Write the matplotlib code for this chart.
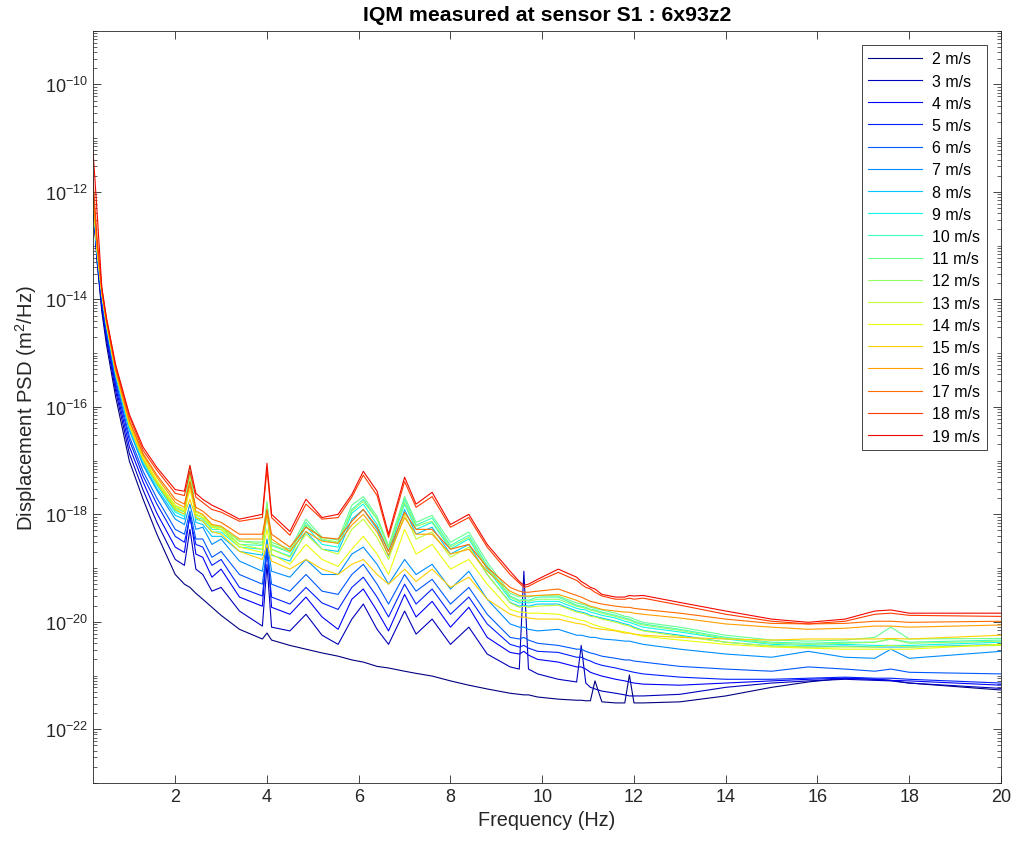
import numpy as np
import matplotlib
matplotlib.use("Agg")
import matplotlib.pyplot as plt
from matplotlib.ticker import LogLocator, NullFormatter

# ---------- data: displacement PSD, log10(m^2/Hz), one list per wind speed ----------
freq_hz = [0.2, 0.25, 0.3, 0.4, 0.5, 0.7, 1.0, 1.3, 1.6, 2.0,
           2.2, 2.32, 2.45, 2.6, 2.8, 3.0, 3.4, 3.9, 4.0, 4.1,
           4.5, 4.85, 5.2, 5.55, 5.85, 6.1, 6.4, 6.65, 7.0, 7.25,
           7.6, 8.0, 8.4, 8.8, 9.3, 9.5, 9.6, 9.7, 9.9, 10.35,
           10.75, 10.85, 10.95, 11.05, 11.15, 11.3, 11.6, 11.8, 11.9, 12.0,
           12.2, 13.0, 14.0, 15.0, 15.8, 16.6, 17.25, 17.6, 18.0, 20.0]

wind_speeds = list(range(2, 20))

psd_02 = [-12.14, -12.74, -13.33, -14.23, -14.84, -15.81, -17.01, -17.72, -18.37, -19.12,
          -19.30, -19.36, -19.47, -19.58, -19.73, -19.88, -20.14, -20.32, -20.21, -20.34,
          -20.44, -20.51, -20.58, -20.64, -20.71, -20.75, -20.83, -20.86, -20.92, -20.96,
          -21.01, -21.10, -21.18, -21.25, -21.33, -21.35, -21.36, -21.36, -21.40, -21.44,
          -21.46, -21.46, -21.47, -21.47, -21.10, -21.49, -21.51, -21.51, -20.99, -21.51,
          -21.51, -21.49, -21.38, -21.22, -21.12, -21.05, -21.07, -21.09, -21.14, -21.27]
psd_03 = [-12.13, -12.72, -13.30, -14.15, -14.75, -15.70, -16.87, -17.55, -18.15, -18.84,
          -18.95, -18.28, -19.02, -19.12, -19.43, -19.36, -19.80, -20.08, -18.93, -20.10,
          -20.17, -19.86, -20.25, -20.42, -19.95, -19.67, -20.14, -20.42, -19.80, -20.23,
          -19.95, -20.42, -20.10, -20.60, -20.84, -20.88, -19.06, -20.88, -20.97, -21.07,
          -21.12, -20.44, -21.14, -21.22, -21.25, -21.29, -21.33, -21.36, -21.38, -21.38,
          -21.38, -21.35, -21.22, -21.14, -21.10, -21.07, -21.09, -21.10, -21.14, -21.24]
psd_04 = [-12.11, -12.68, -13.26, -14.08, -14.67, -15.62, -16.74, -17.40, -17.98, -18.61,
          -18.71, -18.00, -18.74, -18.80, -19.17, -19.02, -19.54, -19.71, -18.56, -19.73,
          -19.86, -19.54, -19.91, -20.14, -19.58, -19.39, -19.80, -20.17, -19.49, -19.91,
          -19.62, -20.10, -19.73, -20.29, -20.57, -20.60, -20.55, -20.62, -20.70, -20.75,
          -20.84, -20.84, -20.88, -20.94, -20.97, -21.01, -21.07, -21.10, -21.12, -21.14,
          -21.16, -21.18, -21.14, -21.10, -21.07, -21.05, -21.07, -21.09, -21.10, -21.18]
psd_05 = [-12.09, -12.66, -13.22, -14.02, -14.62, -15.55, -16.62, -17.29, -17.81, -18.41,
          -18.52, -18.06, -18.56, -18.61, -18.95, -18.84, -19.36, -19.52, -18.69, -19.54,
          -19.67, -19.36, -19.65, -19.77, -19.36, -19.17, -19.54, -19.91, -19.30, -19.67,
          -19.39, -19.86, -19.54, -20.04, -20.42, -20.47, -20.44, -20.49, -20.55, -20.57,
          -20.66, -20.66, -20.70, -20.73, -20.77, -20.81, -20.86, -20.90, -20.92, -20.94,
          -20.97, -21.03, -21.07, -21.07, -21.05, -21.03, -21.05, -21.05, -21.07, -21.14]
psd_06 = [-12.07, -12.65, -13.20, -13.98, -14.58, -15.49, -16.55, -17.20, -17.70, -18.28,
          -18.37, -17.94, -18.46, -18.46, -18.80, -18.69, -19.12, -19.30, -18.61, -19.30,
          -19.43, -19.12, -19.43, -19.49, -19.12, -18.93, -19.30, -19.67, -19.12, -19.43,
          -19.21, -19.67, -19.36, -19.86, -20.29, -20.32, -20.29, -20.34, -20.40, -20.44,
          -20.51, -20.51, -20.55, -20.58, -20.60, -20.64, -20.68, -20.71, -20.71, -20.73,
          -20.75, -20.83, -20.88, -20.92, -20.84, -20.88, -20.92, -20.88, -20.94, -20.97]
psd_07 = [-12.05, -12.61, -13.17, -13.93, -14.51, -15.42, -16.44, -17.09, -17.55, -18.09,
          -18.19, -17.81, -18.28, -18.24, -18.56, -18.46, -18.87, -19.06, -18.46, -19.06,
          -19.17, -18.84, -19.12, -19.12, -18.74, -18.61, -18.93, -19.30, -18.84, -19.12,
          -18.93, -19.39, -19.06, -19.58, -20.04, -20.10, -20.10, -20.14, -20.17, -20.14,
          -20.25, -20.25, -20.27, -20.29, -20.29, -20.32, -20.34, -20.36, -20.36, -20.38,
          -20.42, -20.51, -20.60, -20.66, -20.55, -20.66, -20.68, -20.51, -20.68, -20.55]
psd_08 = [-12.03, -12.59, -13.15, -13.91, -14.49, -15.40, -16.42, -17.05, -17.52, -18.02,
          -18.09, -17.26, -18.15, -18.19, -18.41, -18.41, -18.69, -18.76, -17.94, -18.76,
          -18.87, -18.32, -18.65, -18.69, -18.09, -17.91, -18.28, -18.78, -17.91, -18.37,
          -18.24, -18.74, -18.56, -19.12, -19.64, -19.71, -19.69, -19.71, -19.67, -19.67,
          -19.80, -19.82, -19.84, -19.88, -19.90, -19.93, -19.99, -20.04, -20.06, -20.10,
          -20.16, -20.25, -20.38, -20.45, -20.47, -20.45, -20.47, -20.47, -20.47, -20.42]
psd_09 = [-12.01, -12.57, -13.13, -13.89, -14.47, -15.38, -16.38, -17.01, -17.46, -17.96,
          -18.04, -17.16, -18.09, -18.13, -18.33, -18.33, -18.61, -18.65, -17.87, -18.65,
          -18.78, -18.22, -18.56, -18.61, -17.98, -17.81, -18.19, -18.69, -17.81, -18.28,
          -18.15, -18.65, -18.46, -19.02, -19.58, -19.65, -19.64, -19.65, -19.62, -19.62,
          -19.75, -19.77, -19.78, -19.82, -19.84, -19.88, -19.93, -19.99, -20.01, -20.04,
          -20.10, -20.19, -20.32, -20.42, -20.44, -20.42, -20.44, -20.44, -20.44, -20.38]
psd_10 = [-12.00, -12.55, -13.11, -13.89, -14.47, -15.36, -16.36, -17.00, -17.44, -17.93,
          -18.00, -17.13, -18.06, -18.09, -18.28, -18.28, -18.56, -18.58, -17.81, -18.58,
          -18.71, -18.15, -18.48, -18.54, -17.91, -17.72, -18.09, -18.63, -17.72, -18.20,
          -18.07, -18.58, -18.39, -18.95, -19.52, -19.60, -19.58, -19.60, -19.54, -19.54,
          -19.69, -19.71, -19.73, -19.77, -19.78, -19.82, -19.88, -19.93, -19.95, -19.99,
          -20.04, -20.14, -20.29, -20.38, -20.40, -20.38, -20.38, -20.32, -20.38, -20.34]
psd_11 = [-11.98, -12.53, -13.09, -13.87, -14.45, -15.34, -16.33, -16.96, -17.40, -17.89,
          -17.96, -17.09, -18.02, -18.06, -18.24, -18.24, -18.50, -18.52, -17.76, -18.52,
          -18.65, -18.09, -18.43, -18.48, -17.83, -17.67, -18.04, -18.59, -17.67, -18.15,
          -18.02, -18.52, -18.33, -18.89, -19.47, -19.54, -19.52, -19.54, -19.51, -19.52,
          -19.65, -19.67, -19.69, -19.73, -19.75, -19.78, -19.84, -19.90, -19.91, -19.95,
          -20.01, -20.10, -20.25, -20.34, -20.36, -20.34, -20.29, -20.10, -20.32, -20.31]
psd_12 = [-11.98, -12.53, -13.09, -13.87, -14.45, -15.34, -16.33, -16.96, -17.39, -17.87,
          -17.94, -17.26, -18.00, -18.06, -18.22, -18.24, -18.50, -18.56, -17.81, -18.56,
          -18.69, -18.19, -18.46, -18.52, -17.94, -17.76, -18.09, -18.61, -17.78, -18.22,
          -18.13, -18.61, -18.43, -18.99, -19.54, -19.62, -19.60, -19.62, -19.58, -19.58,
          -19.71, -19.73, -19.75, -19.78, -19.80, -19.84, -19.90, -19.95, -19.97, -20.01,
          -20.06, -20.16, -20.31, -20.40, -20.42, -20.40, -20.38, -20.32, -20.40, -20.36]
psd_13 = [-11.96, -12.52, -13.07, -13.87, -14.43, -15.32, -16.31, -16.94, -17.37, -17.83,
          -17.91, -17.35, -17.96, -18.02, -18.20, -18.24, -18.56, -18.65, -18.00, -18.65,
          -18.80, -18.37, -18.65, -18.74, -18.28, -18.09, -18.43, -18.84, -18.00, -18.46,
          -18.33, -18.80, -18.61, -19.12, -19.65, -19.73, -19.71, -19.73, -19.71, -19.69,
          -19.82, -19.84, -19.86, -19.90, -19.91, -19.95, -20.01, -20.06, -20.08, -20.12,
          -20.17, -20.27, -20.38, -20.45, -20.47, -20.47, -20.47, -20.44, -20.47, -20.44]
psd_14 = [-11.96, -12.52, -13.07, -13.87, -14.43, -15.32, -16.31, -16.94, -17.37, -17.85,
          -17.94, -17.54, -18.00, -18.06, -18.24, -18.28, -18.61, -18.71, -18.28, -18.74,
          -18.93, -18.56, -18.84, -18.97, -18.65, -18.41, -18.74, -19.12, -18.28, -18.74,
          -18.56, -19.02, -18.84, -19.30, -19.77, -19.82, -19.82, -19.84, -19.84, -19.86,
          -19.95, -19.97, -19.99, -20.03, -20.06, -20.10, -20.16, -20.19, -20.21, -20.23,
          -20.27, -20.34, -20.42, -20.47, -20.49, -20.51, -20.51, -20.51, -20.51, -20.42]
psd_15 = [-11.98, -12.53, -13.09, -13.89, -14.45, -15.36, -16.35, -16.98, -17.42, -17.91,
          -18.00, -17.72, -18.06, -18.13, -18.32, -18.37, -18.69, -18.84, -18.56, -18.87,
          -19.02, -18.84, -19.02, -19.12, -18.93, -18.84, -19.12, -19.30, -19.02, -19.25,
          -19.02, -19.36, -19.17, -19.58, -19.86, -19.91, -19.91, -19.93, -19.95, -19.95,
          -20.03, -20.04, -20.06, -20.10, -20.12, -20.14, -20.17, -20.21, -20.21, -20.23,
          -20.25, -20.29, -20.32, -20.34, -20.32, -20.32, -20.32, -20.31, -20.32, -20.25]
psd_16 = [-11.92, -12.48, -13.04, -13.85, -14.41, -15.30, -16.27, -16.90, -17.31, -17.78,
          -17.87, -17.46, -17.94, -18.00, -18.19, -18.22, -18.46, -18.46, -18.00, -18.46,
          -18.69, -18.32, -18.50, -18.54, -18.20, -18.00, -18.33, -18.76, -18.06, -18.37,
          -18.37, -18.74, -18.65, -19.06, -19.43, -19.51, -19.52, -19.52, -19.51, -19.49,
          -19.60, -19.64, -19.67, -19.71, -19.73, -19.77, -19.80, -19.82, -19.82, -19.84,
          -19.86, -19.93, -20.04, -20.10, -20.14, -20.12, -20.08, -20.08, -20.10, -20.06]
psd_17 = [-11.87, -12.44, -13.00, -13.84, -14.39, -15.29, -16.25, -16.87, -17.27, -17.72,
          -17.81, -17.39, -17.87, -17.94, -18.09, -18.15, -18.37, -18.37, -17.91, -18.37,
          -18.61, -18.24, -18.43, -18.46, -18.13, -17.91, -18.24, -18.69, -17.96, -18.28,
          -18.28, -18.65, -18.56, -18.99, -19.36, -19.43, -19.45, -19.45, -19.43, -19.39,
          -19.51, -19.54, -19.58, -19.62, -19.64, -19.67, -19.71, -19.73, -19.73, -19.75,
          -19.77, -19.84, -19.95, -20.03, -20.04, -20.03, -19.99, -19.99, -20.01, -19.99]
psd_18 = [-11.68, -12.29, -12.89, -13.80, -14.36, -15.25, -16.18, -16.81, -17.18, -17.61,
          -17.65, -17.20, -17.68, -17.78, -17.91, -17.96, -18.13, -18.06, -17.16, -18.06,
          -18.39, -17.81, -18.09, -18.06, -17.68, -17.27, -17.65, -18.43, -17.39, -17.87,
          -17.67, -18.24, -18.06, -18.61, -19.12, -19.28, -19.36, -19.34, -19.25, -19.08,
          -19.23, -19.30, -19.36, -19.39, -19.45, -19.52, -19.58, -19.58, -19.56, -19.58,
          -19.56, -19.69, -19.86, -19.99, -20.04, -19.99, -19.86, -19.84, -19.88, -19.90]
psd_19 = [-11.16, -11.77, -12.42, -13.78, -14.34, -15.21, -16.14, -16.75, -17.13, -17.54,
          -17.57, -17.09, -17.61, -17.72, -17.83, -17.91, -18.09, -18.00, -17.05, -18.00,
          -18.32, -17.72, -18.06, -18.00, -17.63, -17.20, -17.57, -18.37, -17.31, -17.81,
          -17.59, -18.19, -18.00, -18.56, -19.06, -19.25, -19.32, -19.30, -19.21, -19.02,
          -19.17, -19.25, -19.30, -19.36, -19.39, -19.49, -19.54, -19.54, -19.51, -19.52,
          -19.51, -19.64, -19.80, -19.95, -20.01, -19.95, -19.80, -19.78, -19.84, -19.84]

all_psd = [psd_02, psd_03, psd_04, psd_05, psd_06, psd_07, psd_08, psd_09, psd_10,
           psd_11, psd_12, psd_13, psd_14, psd_15, psd_16, psd_17, psd_18, psd_19]

# ---------- style: Helvetica-like text, dark grey axes ----------
plt.rcParams['font.family'] = ['Liberation Sans', 'DejaVu Sans']
plt.rcParams['mathtext.fontset'] = 'custom'
plt.rcParams['mathtext.rm'] = 'Liberation Sans'
plt.rcParams['mathtext.it'] = 'Liberation Sans:italic'
plt.rcParams['mathtext.bf'] = 'Liberation Sans:bold'
axcol = '#262626'

fig = plt.figure(figsize=(10.16, 8.45), dpi=100)
ax = fig.add_axes([0.0912, 0.0722, 0.8940, 0.8903])

colors = plt.cm.jet(np.linspace(0, 0.9, len(wind_speeds)))
for spd, vals, c in zip(wind_speeds, all_psd, colors):
    ax.semilogy(freq_hz, 10.0 ** np.asarray(vals), color=c, lw=0.8, label=f"{spd} m/s")

ax.set_xlim(0.2, 20)
ax.set_ylim(1e-23, 1e-9)
ax.set_xticks(range(2, 21, 2))
exps = list(range(-22, -9, 2))
ax.set_yticks([10.0 ** k for k in exps])
ax.set_yticklabels([rf'$\mathregular{{10^{{{k}}}}}$' for k in exps])
ax.yaxis.set_minor_locator(LogLocator(base=10, subs=np.arange(1, 10), numticks=60))
ax.yaxis.set_minor_formatter(NullFormatter())

ax.tick_params(which='both', direction='in', top=True, right=True,
               colors=axcol, labelsize=13)
ax.tick_params(which='major', length=6, width=0.6)
ax.tick_params(which='minor', length=3, width=0.5)
for s in ax.spines.values():
    s.set_linewidth(0.6)
    s.set_color(axcol)

ax.set_xlabel('Frequency (Hz)', fontsize=14.3, color=axcol)
ax.set_ylabel(r'Displacement PSD (m$^{\mathregular{2}}$/Hz)', fontsize=14.6, color=axcol)
ax.set_title('IQM measured at sensor S1 : 6x93z2', fontsize=15.3, fontweight='bold', pad=8)

leg = ax.legend(loc='upper right', fontsize=11.5, handlelength=3.4, handletextpad=0.6,
                labelspacing=0.45, borderpad=0.4, borderaxespad=0.9,
                fancybox=False, framealpha=1, edgecolor=axcol)
leg.get_frame().set_linewidth(0.6)

fig.savefig('out.png', dpi=100)
